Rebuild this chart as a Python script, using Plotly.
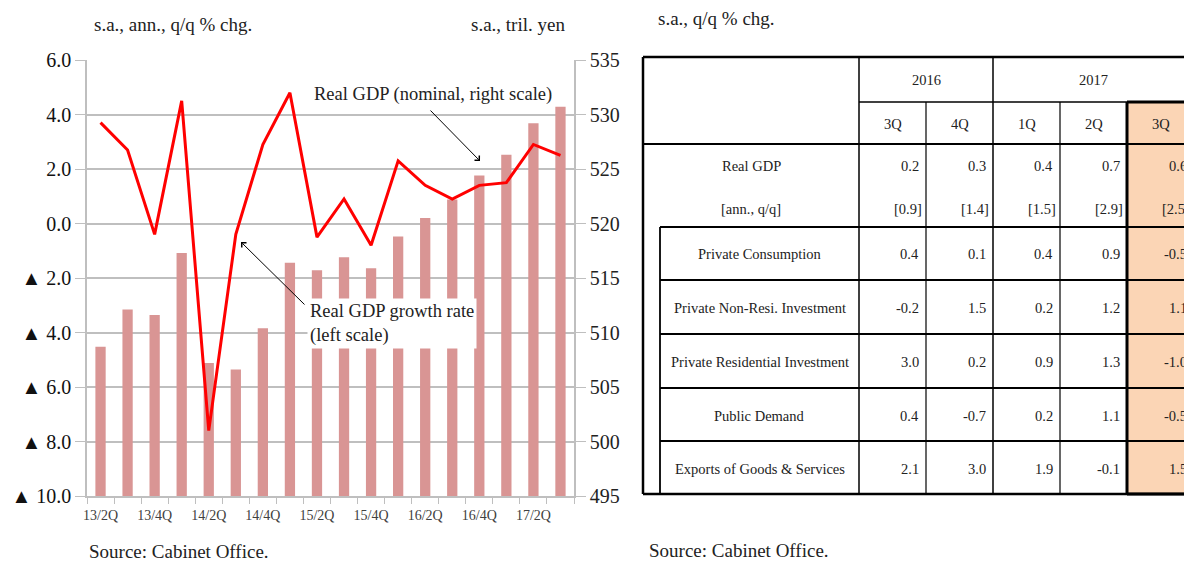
import plotly.graph_objects as go

# ---------------- data ----------------
quarters = ["13/2Q", "13/3Q", "13/4Q", "14/1Q", "14/2Q", "14/3Q", "14/4Q", "15/1Q", "15/2Q",
            "15/3Q", "15/4Q", "16/1Q", "16/2Q", "16/3Q", "16/4Q", "17/1Q", "17/2Q", "17/3Q"]
gdp_level = [508.7, 512.1, 511.6, 517.3, 507.2, 506.6, 510.4, 516.4, 515.7,
             516.9, 515.9, 518.8, 520.5, 522.2, 524.4, 526.3, 529.2, 530.7]
gdp_growth = [3.7, 2.7, -0.4, 4.5, -7.6, -0.4, 2.9, 4.8, -0.5,
              0.9, -0.8, 2.3, 1.4, 0.9, 1.4, 1.5, 2.9, 2.5]
left_tickvals = [6, 4, 2, 0, -2, -4, -6, -8, -10]
left_ticktext = ["6.0", "4.0", "2.0", "0.0", "▲ 2.0", "▲ 4.0", "▲ 6.0", "▲ 8.0", "▲ 10.0"]

tbl_years = ["2016", "2017"]
tbl_quarters = ["3Q", "4Q", "1Q", "2Q", "3Q"]
tbl_rows = ["Private Consumption", "Private Non-Resi. Investment", "Private Residential Investment",
            "Public Demand", "Exports of Goods & Services"]
real_gdp = [0.2, 0.3, 0.4, 0.7, 0.6]
real_gdp_ann = [0.9, 1.4, 1.5, 2.9, 2.5]
private_consumption = [0.4, 0.1, 0.4, 0.9, -0.5]
private_nonresi = [-0.2, 1.5, 0.2, 1.2, 1.1]
private_resi = [3.0, 0.2, 0.9, 1.3, -1.0]
public_demand = [0.4, -0.7, 0.2, 1.1, -0.5]
exports = [2.1, 3.0, 1.9, -0.1, 1.5]
tbl_values = [private_consumption, private_nonresi, private_resi, public_demand, exports]

# ---------------- helpers ----------------
W, H = 1184, 561
def X(px):
    return px / W
def Y(py):
    return 1 - py / H

FONT = "Liberation Serif"
GRID = "#BFBFBF"

fig = go.Figure()
fig.add_trace(go.Bar(x=quarters, y=gdp_level, yaxis="y", marker=dict(color="#D99594", line=dict(width=0)),
                     width=0.38, showlegend=False))
fig.add_trace(go.Scatter(x=quarters, y=gdp_growth, yaxis="y2", mode="lines",
                         line=dict(color="#FF0000", width=3), showlegend=False))

fig.update_layout(
    width=W, height=H, autosize=False,
    margin=dict(l=0, r=0, t=0, b=0, pad=0),
    paper_bgcolor="white", plot_bgcolor="white",
    font=dict(family=FONT, color="#222222"),
    xaxis=dict(domain=[X(87), X(574)], type="category", categoryorder="array", categoryarray=quarters,
               range=[-0.5, 17.5], showline=True, linecolor=GRID, linewidth=1.5,
               ticks="outside", tickson="boundaries", ticklen=6, tickcolor=GRID, tickwidth=1.2,
               ticklabelstep=2, ticklabelstandoff=5, showgrid=False, tickangle=0, automargin=False,
               tickfont=dict(size=14, color="#404040", family=FONT), fixedrange=True),
    yaxis=dict(domain=[Y(496), Y(60)], side="right", range=[495, 535], dtick=5, tick0=495,
               showgrid=True, gridcolor=GRID, gridwidth=1.5, zeroline=False,
               showline=True, linecolor=GRID, linewidth=1.5, automargin=False,
               ticks="outside", ticklen=10, tickcolor=GRID, tickwidth=1.2,
               tickfont=dict(size=20, color="#222222", family=FONT), anchor="x"),
    yaxis2=dict(overlaying="y", side="left", range=[-10, 6], tickvals=left_tickvals, ticktext=left_ticktext,
                showgrid=False, zeroline=False, showline=True, linecolor=GRID, linewidth=1.5,
                ticks="outside", ticklen=10, tickcolor=GRID, tickwidth=1.2, automargin=False,
                tickfont=dict(size=20, color="#111111", family=FONT), anchor="x"),
    bargap=0.6,
)

ann = []
shapes = []

def text(x, y, t, size=16, xanchor="left", yanchor="middle", color="#222222", **kw):
    ann.append(dict(xref="paper", yref="paper", x=X(x), y=Y(y), text=t, showarrow=False,
                    xanchor=xanchor, yanchor=yanchor, font=dict(family=FONT, size=size, color=color), **kw))

# chart titles / sources
text(92, 25, "s.a., ann., q/q % chg.", 19)
text(567, 25, "s.a., tril. yen", 19, xanchor="right")
text(87, 551, "Source: Cabinet Office.", 19)
text(656, 18, "s.a., q/q % chg.", 19)
text(647, 550, "Source: Cabinet Office.", 19)

# chart annotations
text(312, 95, "Real GDP (nominal, right scale)", 18.5)
ann.append(dict(xref="paper", yref="paper", x=X(480), y=Y(161), ax=-51, ay=-52, text="",
                showarrow=True, arrowhead=4, arrowsize=1.3, arrowwidth=1, arrowcolor="black"))
ann.append(dict(xref="paper", yref="paper", x=X(307), y=Y(298), text="Real GDP growth rate<br>(left scale)",
                showarrow=False, xanchor="left", yanchor="top", align="left", bgcolor="white",
                borderpad=2, font=dict(family=FONT, size=18.5, color="#222222")))
ann.append(dict(xref="paper", yref="paper", x=X(241), y=Y(242), ax=65, ay=64, text="",
                showarrow=True, arrowhead=4, arrowsize=1.3, arrowwidth=1, arrowcolor="black"))

# ---------------- table ----------------
def line(x0, y0, x1, y1, w=1.5, color="black"):
    shapes.append(dict(type="line", xref="paper", yref="paper", x0=X(x0), y0=Y(y0), x1=X(x1), y1=Y(y1),
                       line=dict(color=color, width=w)))

RIGHT = 1200
cols = [859, 926, 993, 1060, 1127, 1194]
top, r1, r2, r3 = 57, 102, 144, 227
row_b = [227, 280, 334, 388, 441, 494]

# highlighted column
shapes.append(dict(type="rect", xref="paper", yref="paper", x0=X(1127), x1=X(1196), y0=Y(102), y1=Y(494),
                   fillcolor="#FBD5B5", line=dict(width=0), layer="below"))

line(643, top, RIGHT, top, 2.5)
line(643, top, 643, 494, 2.5)
line(643, 494, RIGHT, 494, 2.5)
line(859, top, 859, 494, 1.5)
line(993, top, 993, 494, 1.5)
line(926, r1, 926, 494, 1.2)
line(1060, r1, 1060, 494, 1.2)
line(859, r1, RIGHT, r1, 1.5)
line(643, r2, RIGHT, r2, 1.8)
for yb in row_b[:-1]:
    line(660, yb, RIGHT, yb, 1.8)
line(660, r3, 660, 494, 1.8)
# thick box around highlighted column
line(1127, r1, 1127, 494, 3)
line(1127, r1, RIGHT, r1, 3)
line(1127, 494, RIGHT, 494, 3)

TS = 14.5
text(926, 80, tbl_years[0], TS, xanchor="center")
text(1093.5, 80, tbl_years[1], TS, xanchor="center")
for i, q in enumerate(tbl_quarters):
    text((cols[i] + cols[i + 1]) / 2, 124, q, TS, xanchor="center")

text(751, 166, "Real GDP", TS, xanchor="center")
text(751, 209, "[ann., q/q]", TS, xanchor="center")
for i in range(5):
    text(cols[i + 1] - 5, 166, f"{real_gdp[i]:.1f}", TS, xanchor="right")
    text(cols[i + 1] - 2, 209, f"[{real_gdp_ann[i]:.1f}]", TS, xanchor="right")

for r, (lab, vals) in enumerate(zip(tbl_rows, tbl_values)):
    yc = (row_b[r] + row_b[r + 1]) / 2 + 1
    text(759.5, yc, lab, TS, xanchor="center")
    for i in range(5):
        text(cols[i + 1] - 5, yc, f"{vals[i]:.1f}", TS, xanchor="right")

fig.update_layout(annotations=ann, shapes=shapes)
fig.write_html("out.html", config={"displayModeBar": False},
               post_script="document.body.style.margin='0';document.body.style.overflow='hidden';")
